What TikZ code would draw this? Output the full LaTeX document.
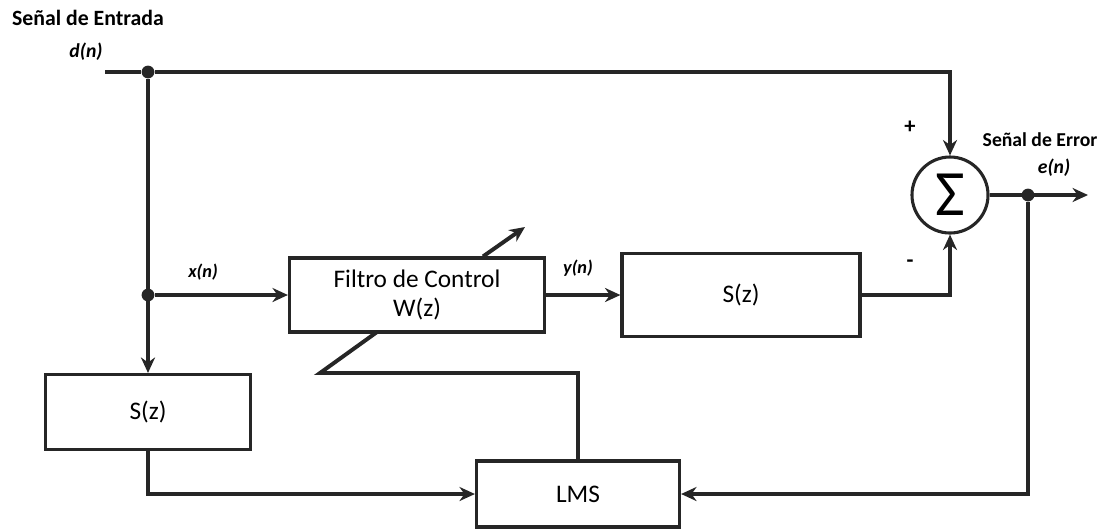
\documentclass[tikz,border=0pt]{standalone}
\usepackage{fontspec}
\setmainfont{Carlito}
\usetikzlibrary{arrows.meta, positioning}

\begin{document}
\begin{tikzpicture}[
  x=0.025cm, y=-0.025cm,
  block/.style={draw=black!85, line width=2.2pt, align=center, inner sep=2pt,
                font=\fontsize{18}{21}\selectfont},
  sumnode/.style={draw=black!85, circle, line width=2.2pt, minimum size=1.9cm,
                  inner sep=0pt, font=\fontsize{46}{46}\selectfont},
  signal/.style={font=\bfseries\itshape\fontsize{13}{15}\selectfont},
  bigsignal/.style={font=\bfseries\itshape\fontsize{14}{16}\selectfont},
  title/.style={font=\bfseries\fontsize{15.5}{17}\selectfont},
  wire/.style={draw=black!85, line width=2.8pt},
  dot/.style={circle, fill=black!85, inner sep=0pt, minimum size=0.32cm},
  >={Stealth[length=11pt,width=10pt]}
]
\useasboundingbox (0,0) rectangle (1115,529);

% bloques
\node[block, minimum width=6.375cm, minimum height=1.85cm] (filtro) at (417,295) {Filtro de Control\\W(z)};
\node[block, minimum width=5.95cm, minimum height=2.08cm] (sup) at (741,295) {S(z)};
\node[block, minimum width=5.125cm, minimum height=1.875cm] (sinf) at (148,412) {S(z)};
\node[block, minimum width=5.075cm, minimum height=1.65cm] (lms) at (578,494) {LMS};
\node[sumnode] (suma) at (950,195) {Σ};

% puntos de union
\coordinate (din) at (105,72);
\node[dot] (j1) at (148,72) {};
\node[dot] (j2) at (148,295) {};
\node[dot] (j3) at (1028,195) {};
\coordinate (eout) at (1088,195);
\coordinate (k1) at (320,373);
\coordinate (k2) at (377,332);
\coordinate (w1) at ([xshift=1.65cm]filtro.north);
\coordinate (w2) at (525,227);

% etiquetas
\node[title] (tin) at (88,18) {Señal de Entrada};
\node[bigsignal] (dn) at (86,52) {d(n)};
\node[signal] (xn) at (203,272) {x(n)};
\node[signal] (yn) at (578,268) {y(n)};
\node[title, font=\bfseries\fontsize{14}{16}\selectfont] (terr) at (1040,140) {Señal de Error};
\node[bigsignal] (en) at (1054,168) {e(n)};
\node[font=\bfseries\fontsize{16}{18}\selectfont] (mas) at (910,127) {+};
\node[font=\bfseries\fontsize{16}{18}\selectfont] (menos) at (910,264) {-};

% conexiones
\draw[wire] (din) -- (j1);
\draw[wire,->] (j1) -| (suma.north);
\draw[wire,->] (j1) -- (sinf.north);
\draw[wire,->] (j2) -- (filtro.west);
\draw[wire,->] (filtro.east) -- (sup.west);
\draw[wire,->] (sup.east) -| (suma.south);
\draw[wire,->] (suma.east) -- (eout);
\draw[wire,->] (j3) |- (lms.east);
\draw[wire,->] (sinf.south) |- (lms.west);
\draw[wire] (lms.north) |- (k1) -- (k2);
\draw[wire,->] (w1) -- (w2);
\end{tikzpicture}
\end{document}
